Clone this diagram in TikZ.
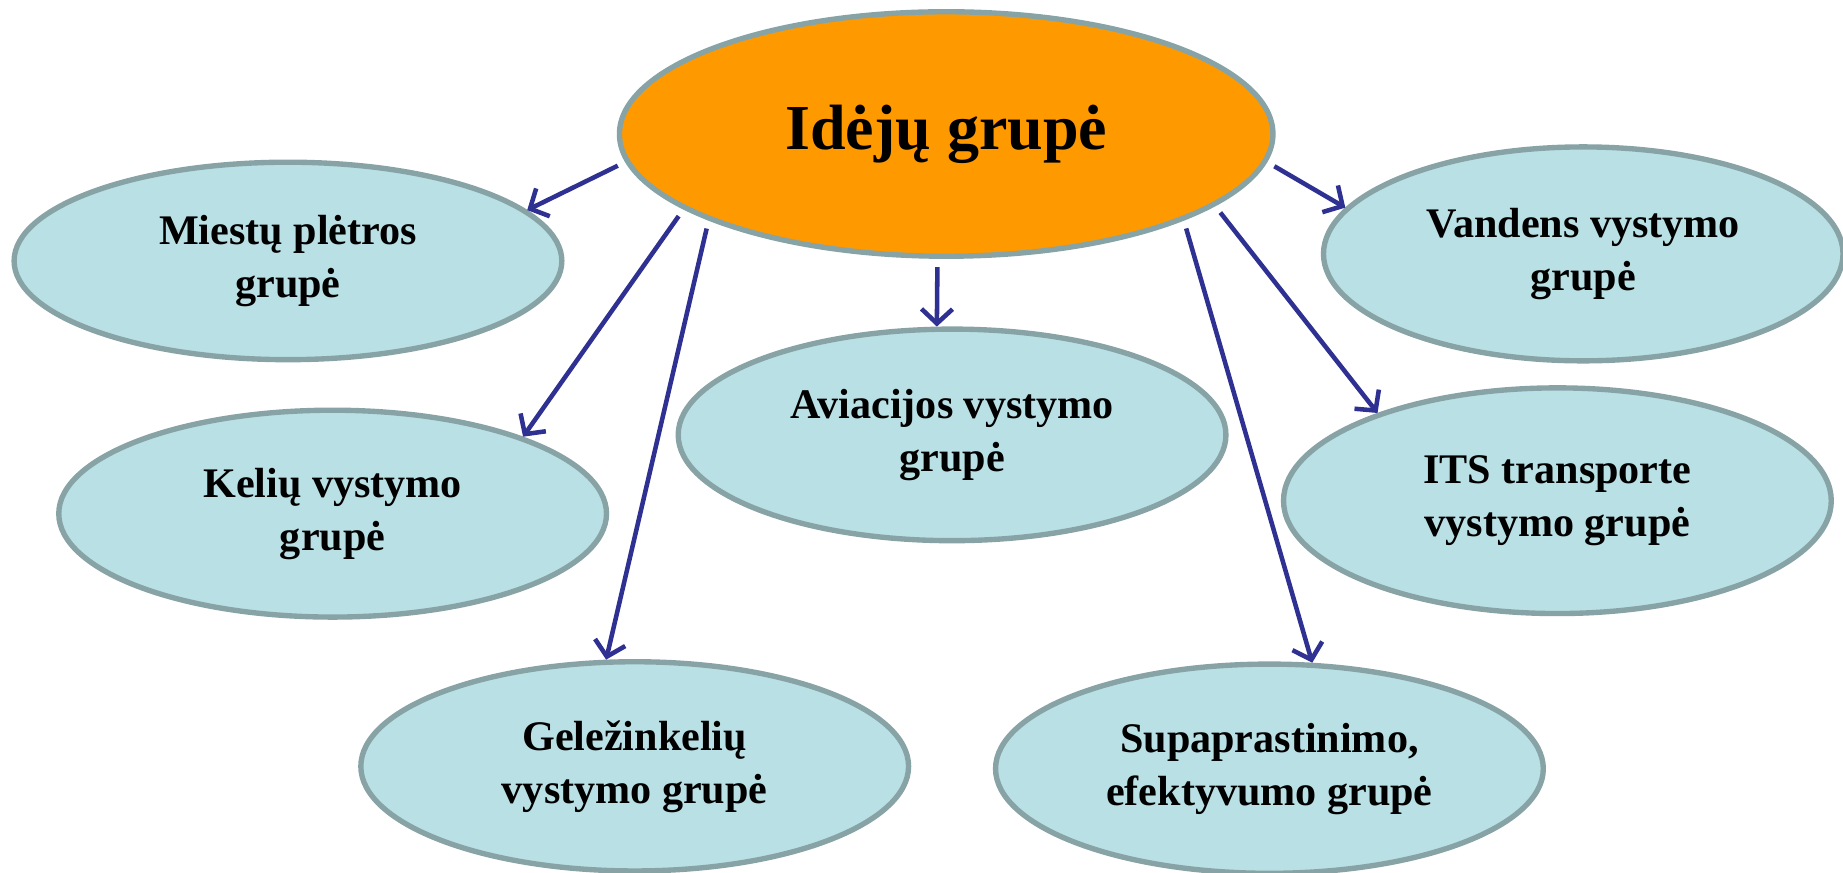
\documentclass[tikz,border=0pt]{standalone}
\usepackage{fontspec}
\setmainfont{Liberation Serif}
\usetikzlibrary{shapes.geometric}
\usetikzlibrary{arrows.meta}
\definecolor{ideaorange}{RGB}{255,153,0}
\definecolor{groupblue}{RGB}{185,224,228}
\definecolor{rimgrey}{RGB}{136,163,166}
\definecolor{arrowblue}{RGB}{46,49,146}
\tikzset {
  % one working group
  group node/.style = {
    ellipse,
    draw = rimgrey,
    line width = 1.3pt,
    fill = groupblue,
    inner sep = 0,
    minimum width = 4.66cm,
    minimum height = 1.72cm,
    align = center,
    font = \fontsize{10.2}{12.8}\selectfont\bfseries
  },
  % the central group
  main group/.style = {
    group node,
    fill = ideaorange,
    minimum width = 5.56cm,
    minimum height = 2.08cm,
    font = \fontsize{15.5}{18}\selectfont\bfseries
  },
  % arrow from the central group
  arr/.style = {
    draw = arrowblue,
    line width = 1.1pt,
    shorten < = 2pt,
    -{Straight Barb[length=3.5pt,width=7.5pt]}
  }
}

\begin{document}
\begin{tikzpicture}
    \useasboundingbox (0,0) rectangle (15.68,-7.42);
    \node[main group] (ideju) at (8.05,-1.14) {Idėjų grupė};
    \node[group node, minimum height=1.68cm] (miestu) at (2.45,-2.22) {Miestų plėtros\\grupė};
    \node[group node, minimum height=1.76cm] (keliu) at (2.83,-4.37) {Kelių vystymo\\grupė};
    \node[group node, minimum height=1.78cm] (gelezinkeliu) at (5.40,-6.52) {Geležinkelių\\vystymo grupė};
    \node[group node, minimum height=1.80cm] (aviacijos) at (8.10,-3.70) {Aviacijos vystymo\\grupė};
    \node[group node, minimum width=4.42cm, minimum height=1.82cm] (vandens) at (13.47,-2.16) {Vandens vystymo\\grupė};
    \node[group node, minimum height=1.92cm] (its) at (13.25,-4.26) {ITS transporte\\vystymo grupė};
    \node[group node, minimum height=1.78cm] (supaprastinimo) at (10.80,-6.54) {Supaprastinimo,\\efektyvumo grupė};

    \draw[arr] (ideju.185) -- (miestu.12);
    \draw[arr] (ideju.196) -- (keliu.22);
    \draw[arr] (ideju.200) -- (gelezinkeliu.105);
    \draw[arr] (ideju.266) -- (aviacijos.98);
    \draw[arr] (ideju.340) -- (supaprastinimo.68);
    \draw[arr] (ideju.345) -- (its.154);
    \draw[arr] (ideju.355) -- (vandens.169);
  \end{tikzpicture}
\end{document}
